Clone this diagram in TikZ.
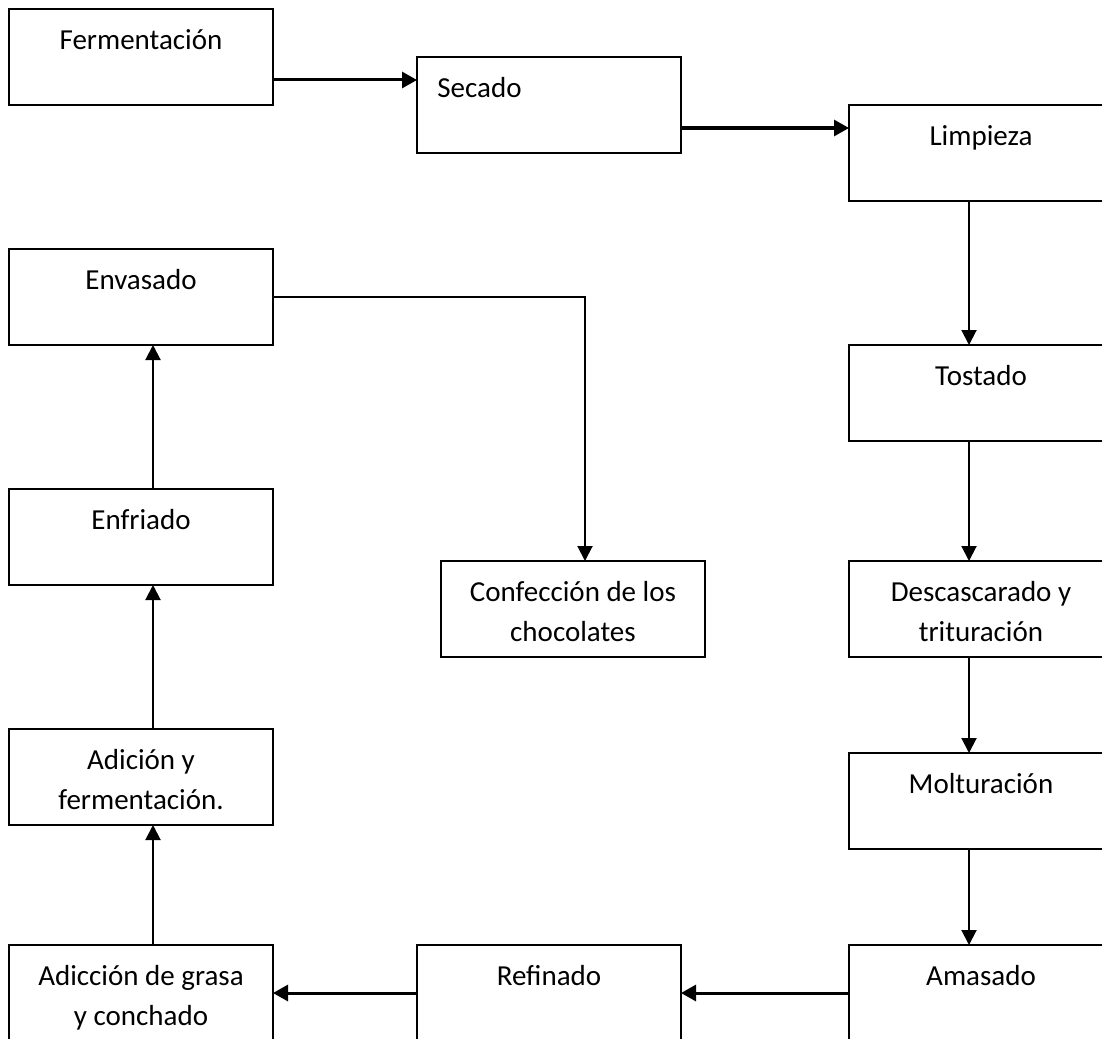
\documentclass[tikz,border=0pt]{standalone}
\usepackage{fontspec}
\setmainfont{Carlito}
\usetikzlibrary{arrows.meta,calc}
\tikzset{
  box/.style={draw, line width=1.1pt, minimum width=132pt, minimum height=48pt, inner sep=0pt, outer sep=0pt, anchor=north west},
  lbl/.style={anchor=north, yshift=-6pt, inner sep=0pt, align=center, font=\fontsize{14.5}{20}\selectfont},
  lblleft/.style={anchor=north west, xshift=10pt, yshift=-6pt, inner sep=0pt, align=left, font=\fontsize{14.5}{20}\selectfont},
  arr/.style={line width=1pt, -{Triangle[length=7.5pt,width=7.5pt]}},
  harr/.style={line width=1.5pt, -{Triangle[length=7.5pt,width=8pt]}}
}
\begin{document}
\begin{tikzpicture}[x={(0.5pt,0)}, y={(0,-0.5pt)}]
\useasboundingbox (0,0) rectangle (1102,1038);
\clip (0,0) rectangle (1102,1038);
\fill[white] (0,0) rectangle (1102,1038);

\node[box, label={[lbl]north:\strut Fermentación}] (ferm) at (9,9) {};
\node[box, label={[lblleft]north west:\strut Secado}] (seca) at (417,57) {};
\node[box, label={[lbl]north:\strut Limpieza}] (limp) at (849,105) {};
\node[box, label={[lbl]north:\strut Tostado}] (tost) at (849,345) {};
\node[box, label={[lbl]north:\strut Descascarado y\\trituración}] (desc) at (849,561) {};
\node[box, label={[lbl]north:\strut Molturación}] (molt) at (849,753) {};
\node[box, label={[lbl]north:\strut Amasado}] (amas) at (849,945) {};
\node[box, label={[lbl]north:\strut Refinado}] (refi) at (417,945) {};
\node[box, label={[lbl]north:\strut Adicción de grasa\\y conchado}] (grasa) at (9,945) {};
\node[box, label={[lbl]north:\strut Adición y\\fermentación.}] (adic) at (9,729) {};
\node[box, label={[lbl]north:\strut Enfriado}] (enfr) at (9,489) {};
\node[box, label={[lbl]north:\strut Envasado}] (enva) at (9,249) {};
\node[box, label={[lbl]north:\strut Confección de los\\chocolates}] (conf) at (441,561) {};

% top row
\draw[harr] (ferm.east |- {(0,80)}) -- (seca.west |- {(0,80)});
\draw[harr] (seca.east |- {(0,128)}) -- (limp.west |- {(0,128)});
% right column
\draw[arr] (limp.south -| {(969,0)}) -- (tost.north -| {(969,0)});
\draw[arr] (tost.south -| {(969,0)}) -- (desc.north -| {(969,0)});
\draw[arr] (desc.south -| {(969,0)}) -- (molt.north -| {(969,0)});
\draw[arr] (molt.south -| {(969,0)}) -- (amas.north -| {(969,0)});
% bottom row
\draw[harr] (amas.west |- {(0,993)}) -- (refi.east |- {(0,993)});
\draw[harr] (refi.west |- {(0,993)}) -- (grasa.east |- {(0,993)});
% left column
\draw[arr] (grasa.north -| {(153,0)}) -- (adic.south -| {(153,0)});
\draw[arr] (adic.north -| {(153,0)}) -- (enfr.south -| {(153,0)});
\draw[arr] (enfr.north -| {(153,0)}) -- (enva.south -| {(153,0)});
% envasado to confeccion
\draw[arr] (enva.east) -| ($(conf.north)+(12,0)$);
\end{tikzpicture}
\end{document}
